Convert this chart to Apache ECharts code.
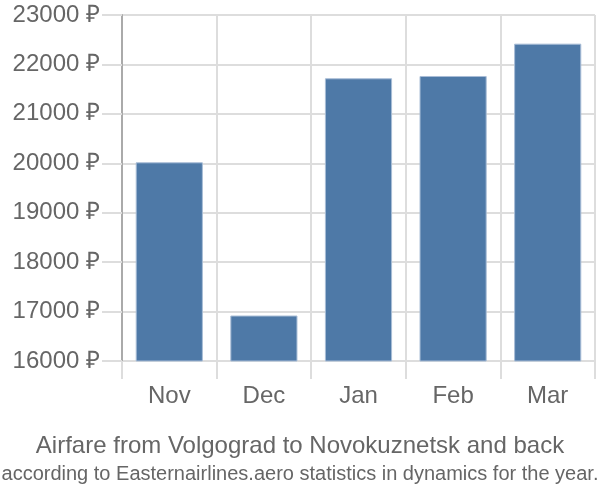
<!DOCTYPE html>
<html><head><meta charset="utf-8">
<script src="https://cdn.jsdelivr.net/npm/echarts@6/dist/echarts.min.js"></script>
<style>html,body{margin:0;padding:0;background:#fff}#c{width:600px;height:500px}</style>
</head><body><div id="c"></div>
<script>
const categories = ['Nov', 'Dec', 'Jan', 'Feb', 'Mar'];
const prices = [20020, 16920, 21720, 21766, 22420];
const yTicks = { min: 16000, max: 23000, step: 1000 };
const titleText = 'Airfare from Volgograd to Novokuznetsk and back';
const subtitleText = 'according to Easternairlines.aero statistics in dynamics for the year.';

const chart = echarts.init(document.getElementById('c'), null, { renderer: 'canvas' });
chart.setOption({
  animation: false,
  backgroundColor: '#fff',
  title: [
    { text: titleText, left: 'center', top: 429, textStyle: { fontFamily: 'Liberation Sans', fontSize: 24, fontWeight: 'normal', color: '#666' } },
    { text: subtitleText, left: 'center', top: 459, textStyle: { fontFamily: 'Liberation Sans', fontSize: 20, fontWeight: 'normal', color: '#666' } }
  ],
  grid: { left: 122, right: 5, top: 15, bottom: 139, containLabel: false },
  xAxis: {
    type: 'category',
    data: categories,
    boundaryGap: true,
    axisLine: { show: false },
    axisTick: { show: true, length: 18, alignWithLabel: false, lineStyle: { color: '#ddd', width: 2 } },
    splitLine: { show: true, lineStyle: { color: '#ddd', width: 2 } },
    axisLabel: { fontFamily: 'Liberation Sans', fontSize: 24, color: '#666', margin: 23 }
  },
  yAxis: {
    type: 'value',
    min: yTicks.min, max: yTicks.max, interval: yTicks.step,
    axisLine: { show: true, lineStyle: { color: '#aaa', width: 2 } },
    axisTick: { show: true, length: 20, lineStyle: { color: '#ddd', width: 2 } },
    splitLine: { show: true, lineStyle: { color: '#ddd', width: 2 } },
    axisLabel: { fontFamily: 'Liberation Sans', fontSize: 24, color: '#666', margin: 22, formatter: v => v + ' ₽' }
  },
  series: [{
    type: 'bar',
    data: prices,
    barWidth: '71%',
    itemStyle: { color: '#4e79a7', borderColor: '#a8bdd6', borderWidth: 1 }
  }]
});
</script></body></html>
